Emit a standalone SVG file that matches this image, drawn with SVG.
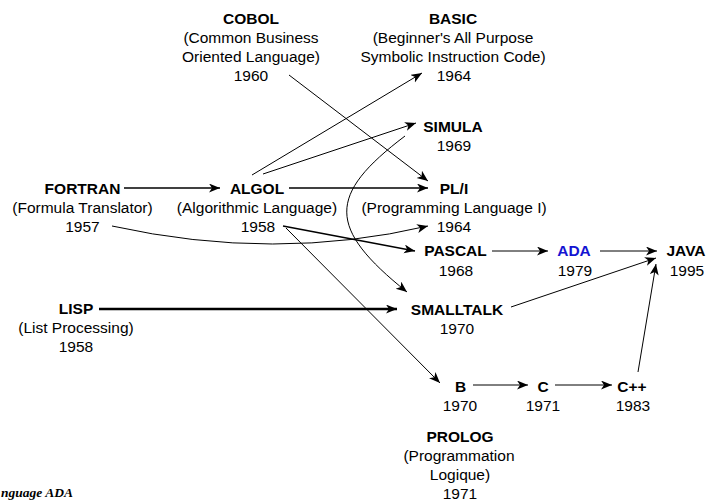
<svg xmlns="http://www.w3.org/2000/svg" width="709" height="501" viewBox="0 0 709 501">
<style>
text{font-family:"Liberation Sans",Arial,sans-serif;font-size:15.5px;fill:#000;text-anchor:middle}
.n{font-weight:bold}
.blue{fill:#1414d2}
.c{fill:none;stroke:#000;stroke-width:1}
.m{stroke-width:1.4}
.t{stroke-width:2.6}
.note{font-family:"Liberation Serif","Times New Roman",serif;font-style:italic;font-weight:bold;font-size:13.5px;text-anchor:start}
</style>
<defs>
<marker id="a" markerUnits="userSpaceOnUse" markerWidth="12" markerHeight="10" refX="11" refY="4.5" orient="auto">
<path d="M0,0 L11,4.5 L0,9 L3,4.5 z" fill="#000"/>
</marker>
</defs>
<rect width="709" height="501" fill="#fff"/>
<g id="connectors">
<line class="c m" x1="124" y1="188" x2="220" y2="188" marker-end="url(#a)"/>
<line class="c m" x1="289" y1="188" x2="428" y2="188" marker-end="url(#a)"/>
<line class="c" x1="252" y1="175" x2="422" y2="73" marker-end="url(#a)"/>
<line class="c" x1="263" y1="174" x2="416" y2="123" marker-end="url(#a)"/>
<line class="c" x1="289" y1="75" x2="428" y2="181" marker-end="url(#a)"/>
<path class="c" d="M112,226 Q275,262 428,226" marker-end="url(#a)"/>
<path class="c" d="M405,136 C327,195 327,228 407,292" marker-end="url(#a)"/>
<line class="c m" x1="283" y1="226" x2="415" y2="251" marker-end="url(#a)"/>
<line class="c" x1="286" y1="228" x2="440" y2="383" marker-end="url(#a)"/>
<line class="c t" x1="99" y1="309" x2="397" y2="309" marker-end="url(#a)"/>
<line class="c" x1="492" y1="251" x2="548" y2="251" marker-end="url(#a)"/>
<line class="c" x1="600" y1="251" x2="657" y2="251" marker-end="url(#a)"/>
<line class="c" x1="511" y1="307" x2="656" y2="258" marker-end="url(#a)"/>
<line class="c" x1="638" y1="372" x2="656" y2="264" marker-end="url(#a)"/>
<line class="c" x1="473" y1="385" x2="528" y2="385" marker-end="url(#a)"/>
<line class="c" x1="555" y1="385" x2="612" y2="385" marker-end="url(#a)"/>
</g>
<g id="cobol"><text class="n" x="251" y="24">COBOL</text><text x="251" y="43">(Common Business</text><text x="251" y="62">Oriented Language)</text><text x="251" y="81">1960</text></g>
<g id="basic"><text class="n" x="453" y="24">BASIC</text><text x="453" y="43">(Beginner's All Purpose</text><text x="453" y="62">Symbolic Instruction Code)</text><text x="454" y="81">1964</text></g>
<g id="simula"><text class="n" x="453" y="132">SIMULA</text><text x="454" y="151">1969</text></g>
<g id="fortran"><text class="n" x="82.5" y="194">FORTRAN</text><text x="82.5" y="213">(Formula Translator)</text><text x="82.5" y="232">1957</text></g>
<g id="algol"><text class="n" x="257" y="194">ALGOL</text><text x="257" y="213">(Algorithmic Language)</text><text x="258" y="232">1958</text></g>
<g id="pli"><text class="n" x="454" y="194">PL/I</text><text x="454" y="213">(Programming Language I)</text><text x="454" y="232">1964</text></g>
<g id="pascal"><text class="n" x="455.5" y="256">PASCAL</text><text x="456" y="275.5">1968</text></g>
<g id="ada"><text class="n blue" x="574" y="256">ADA</text><text x="575" y="275.5">1979</text></g>
<g id="java"><text class="n" x="686" y="256">JAVA</text><text x="687" y="275.5">1995</text></g>
<g id="lisp"><text class="n" x="76" y="314">LISP</text><text x="76" y="333">(List Processing)</text><text x="76" y="352">1958</text></g>
<g id="smalltalk"><text class="n" x="457" y="315">SMALLTALK</text><text x="457" y="334">1970</text></g>
<g id="b"><text class="n" x="460.5" y="391.5">B</text><text x="460" y="410.5">1970</text></g>
<g id="c"><text class="n" x="543" y="391.5">C</text><text x="543" y="410.5">1971</text></g>
<g id="cpp"><text class="n" x="632" y="391.5">C++</text><text x="633" y="410.5">1983</text></g>
<g id="prolog"><text class="n" x="460" y="441.5">PROLOG</text><text x="459" y="460.5">(Programmation</text><text x="460" y="479.5">Logique)</text><text x="460" y="498.5">1971</text></g>
<text class="note" x="1" y="497">nguage ADA</text>
</svg>
